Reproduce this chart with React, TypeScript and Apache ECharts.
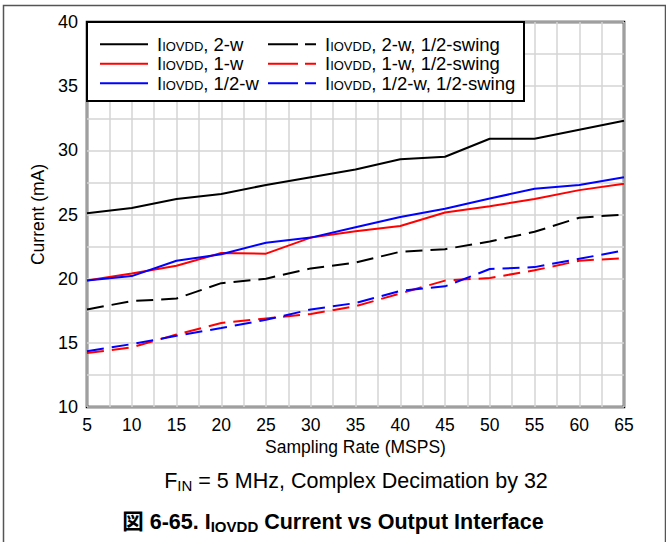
import React, { useEffect, useRef } from "react";
import * as echarts from "echarts";

const samplingRates = [5, 10, 15, 20, 25, 30, 35, 40, 45, 50, 55, 60, 65];
const iovdd2w = [25.1, 25.5, 26.2, 26.6, 27.3, 27.9, 28.5, 29.3, 29.5, 30.9, 30.9, 31.6, 32.3];
const iovdd1w = [19.85, 20.4, 21.0, 22.0, 21.95, 23.2, 23.7, 24.1, 25.15, 25.65, 26.2, 26.9, 27.4];
const iovddHalfW = [19.85, 20.2, 21.4, 21.9, 22.8, 23.2, 24.0, 24.8, 25.45, 26.25, 27.0, 27.3, 27.9];
const iovdd2wHalfSwing = [17.6, 18.25, 18.45, 19.65, 20.0, 20.8, 21.25, 22.1, 22.3, 22.9, 23.65, 24.75, 25.0];
const iovdd1wHalfSwing = [14.2, 14.65, 15.65, 16.55, 16.9, 17.25, 17.85, 18.85, 19.85, 20.05, 20.65, 21.4, 21.6];
const iovddHalfWHalfSwing = [14.35, 14.9, 15.55, 16.15, 16.8, 17.6, 18.1, 19.05, 19.4, 20.75, 20.9, 21.55, 22.2];

const solidNames = ["2-w", "1-w", "1/2-w"];
const dashedNames = ["2-w, 1/2-swing", "1-w, 1/2-swing", "1/2-w, 1/2-swing"];
const xTicks = { min: 5, max: 65, interval: 5 };
const yTicks = { min: 10, max: 40, interval: 5 };

const FONT = "'Liberation Sans', Arial, 'Noto Sans CJK JP', sans-serif";

const toPairs = (ys: number[]) => samplingRates.map((x, i) => [x, ys[i]]);

export default function App() {
  const ref = useRef<HTMLDivElement>(null);
  useEffect(() => {
    if (!ref.current) return;
    const chart = echarts.init(ref.current, undefined, { renderer: "svg" });
    const legendRich = {
      f: { fontSize: 18.5, fontFamily: FONT, color: "#000", lineHeight: 17, padding: [0, 0, 0, 4] },
      m: { fontSize: 18.5, fontFamily: FONT, color: "#000", lineHeight: 17 },
      s: { fontSize: 13, fontFamily: FONT, color: "#000", lineHeight: 8, verticalAlign: "bottom" },
    };
    const legendFormatter = (name: string) => `{f|I}{s|IOVDD}{m|, ${name}}`;
    const mk = (name: string, data: number[], color: string, dashed: boolean) => ({
      name,
      type: "line",
      data: toPairs(data),
      showSymbol: false,
      symbol: "none",
      z: 2,
      lineStyle: { color, width: 2, type: dashed ? [17, 8] : "solid" },
      itemStyle: { color },
    });
    const option: any = {
      animation: false,
      backgroundColor: "#fff",
      grid: {
        left: 87,
        right: 42,
        top: 22,
        bottom: 135,
        show: true,
        borderColor: "#000",
        borderWidth: 2.5,
        backgroundColor: "#fff",
      },
      xAxis: {
        type: "value",
        min: xTicks.min,
        max: xTicks.max,
        interval: xTicks.interval,
        name: "Sampling Rate (MSPS)",
        nameLocation: "middle",
        nameGap: 27,
        nameTextStyle: { fontSize: 17.5, fontFamily: FONT, color: "#000" },
        axisLine: { show: false },
        axisTick: { show: false },
        axisLabel: { fontSize: 17.5, fontFamily: FONT, color: "#000", margin: 9 },
        splitLine: { show: true, lineStyle: { color: "#d4d4d4", width: 1.5 } },
        minorTick: { show: false, splitNumber: 2 },
        minorSplitLine: { show: true, lineStyle: { color: "#d4d4d4", width: 1.5 } },
      },
      yAxis: {
        type: "value",
        min: yTicks.min,
        max: yTicks.max,
        interval: yTicks.interval,
        name: "Current (mA)",
        nameLocation: "middle",
        nameRotate: 90,
        nameGap: 40,
        nameTextStyle: { fontSize: 17.5, fontFamily: FONT, color: "#000" },
        axisLine: { show: false },
        axisTick: { show: false },
        axisLabel: { fontSize: 18, fontFamily: FONT, color: "#000", margin: 9 },
        splitLine: { show: true, lineStyle: { color: "#d4d4d4", width: 1.5 } },
        minorTick: { show: false, splitNumber: 2 },
        minorSplitLine: { show: true, lineStyle: { color: "#d4d4d4", width: 1.5 } },
      },
      legend: [
        {
          data: solidNames,
          orient: "vertical",
          left: 100,
          top: 35,
          itemWidth: 48,
          itemHeight: 2,
          itemGap: 1,
          padding: 0,
          z: 10,
          icon: "path://M0,0h48v2h-48z",
          formatter: legendFormatter,
          textStyle: { rich: legendRich },
        },
        {
          data: dashedNames,
          orient: "vertical",
          left: 268,
          top: 35,
          itemWidth: 48,
          itemHeight: 2,
          itemGap: 1,
          padding: 0,
          z: 10,
          icon: "path://M0,0h30v2h-30z M37,0h11v2h-11z",
          formatter: legendFormatter,
          textStyle: { rich: legendRich },
        },
      ],
      graphic: [
        {
          type: "rect",
          left: 1,
          top: 3,
          z: -10,
          shape: { width: 662, height: 560 },
          style: { fill: "none", stroke: "#555", lineWidth: 1.5 },
          silent: true,
        },
        {
          type: "rect",
          x: 87,
          y: 22,
          z: 8,
          shape: { width: 437, height: 79 },
          style: { fill: "#fff", stroke: "#000", lineWidth: 2 },
          silent: true,
        },
        {
          type: "text",
          x: 356,
          y: 481,
          style: {
            text: "{m|F}{s|IN}{m| = 5 MHz, Complex Decimation by 32}",
            align: "center",
            verticalAlign: "middle",
            rich: {
              m: { fontSize: 21.5, fontFamily: FONT, fill: "#000", lineHeight: 24 },
              s: { fontSize: 15, fontFamily: FONT, fill: "#000", lineHeight: 10, verticalAlign: "bottom" },
            },
          },
        },
        {
          type: "text",
          x: 333,
          y: 522,
          style: {
            text: "{m|図 6-65. I}{s|IOVDD}{m| Current vs Output Interface}",
            align: "center",
            verticalAlign: "middle",
            rich: {
              m: { fontSize: 21.5, fontWeight: "bold", fontFamily: FONT, fill: "#000", lineHeight: 24 },
              s: { fontSize: 15, fontWeight: "bold", fontFamily: FONT, fill: "#000", lineHeight: 10, verticalAlign: "bottom" },
            },
          },
        },
      ],
      series: [
        mk(solidNames[0], iovdd2w, "#000000", false),
        mk(solidNames[1], iovdd1w, "#ff0000", false),
        mk(solidNames[2], iovddHalfW, "#0000ff", false),
        mk(dashedNames[0], iovdd2wHalfSwing, "#000000", true),
        mk(dashedNames[1], iovdd1wHalfSwing, "#ff0000", true),
        mk(dashedNames[2], iovddHalfWHalfSwing, "#0000ff", true),
      ],
    };
    chart.setOption(option);
    return () => chart.dispose();
  }, []);
  return (
    <div
      ref={ref}
      style={{ position: "fixed", left: 0, top: 0, width: 666, height: 542 }}
    />
  );
}
